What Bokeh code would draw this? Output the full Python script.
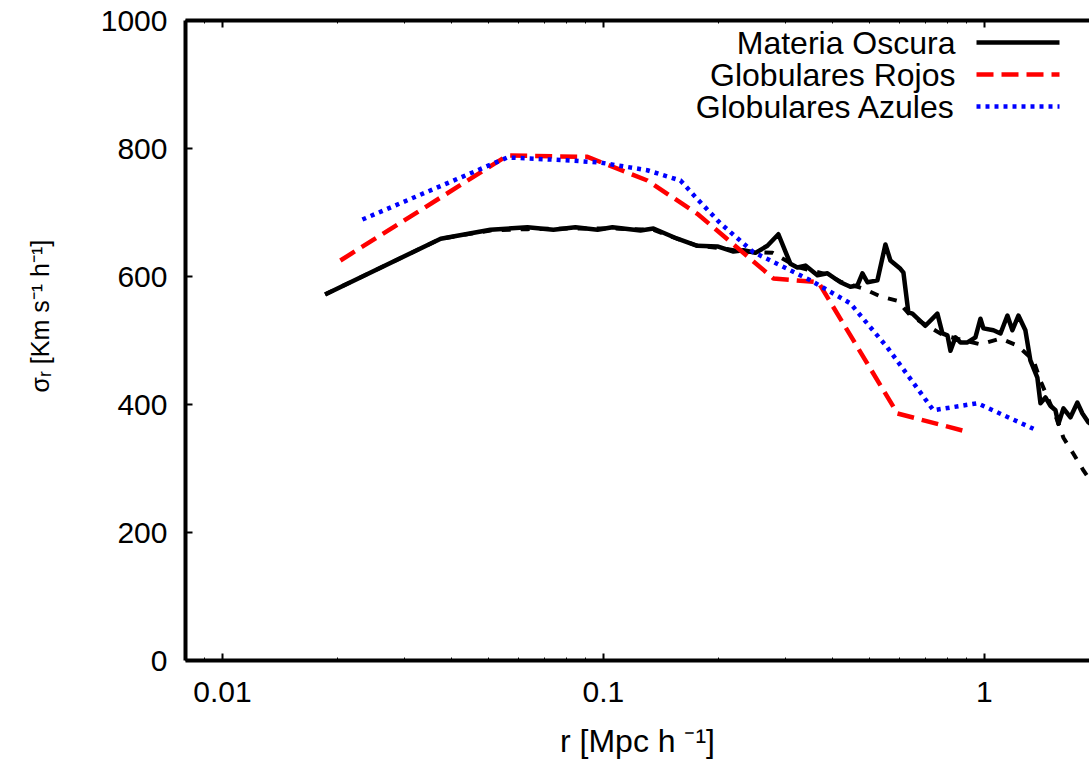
import math
from bokeh.plotting import figure
from bokeh.models import Range1d, LogAxis, FixedTicker, NumeralTickFormatter, Label, CustomJSTickFormatter
from bokeh.embed import file_html
from bokeh.resources import INLINE

# ---------------- data ----------------
r_dm = [0.0186, 0.0374, 0.0505, 0.0632, 0.0739, 0.0844, 0.0965, 0.1056, 0.1251, 0.1353,
        0.1563, 0.1764, 0.1991, 0.2194, 0.2331, 0.2506, 0.2694, 0.2879, 0.3095, 0.3229,
        0.3390, 0.3644, 0.3872, 0.4188, 0.4447, 0.4642, 0.4784, 0.4931, 0.5238, 0.5497,
        0.5665, 0.6018, 0.6130, 0.6314, 0.6472, 0.6999, 0.7525, 0.7760, 0.7997, 0.8144,
        0.8392, 0.8650, 0.9024, 0.9471, 0.9761, 0.9940, 1.056, 1.102, 1.149, 1.184,
        1.228, 1.281, 1.320, 1.377, 1.403, 1.446, 1.490, 1.536, 1.564, 1.612,
        1.682, 1.754, 1.808, 1.875, 2.016]
v_dm = [572, 659, 673, 677, 673, 677, 673, 677, 672, 675,
        659, 648, 647, 639, 641, 637, 648, 666, 620, 614,
        617, 602, 605, 591, 584, 586, 605, 591, 594, 650,
        625, 612, 606, 544, 542, 523, 542, 511, 508, 484,
        505, 497, 497, 505, 534, 519, 516, 511, 539, 516,
        539, 516, 469, 442, 402, 411, 398, 391, 370, 394,
        380, 403, 386, 372, 360]

r_dm_smooth = [0.0186, 0.0374, 0.0505, 0.0632, 0.0844, 0.1056, 0.1353, 0.1563, 0.1764, 0.1991,
               0.2331, 0.2778, 0.3229, 0.3872, 0.4188, 0.4813, 0.5333, 0.5910, 0.6393, 0.7085,
               0.7806, 0.9761, 1.102, 1.221, 1.345, 1.403, 1.554, 1.612, 1.712, 1.819, 1.956]
v_dm_smooth = [572, 659, 672, 674, 675, 675, 673, 659, 648, 645,
               639, 637, 615, 603, 592, 581, 569, 562, 539, 523,
               508, 494, 503, 492, 469, 437, 375, 348, 323, 297, 270]

r_red = [0.0204, 0.0560, 0.0908, 0.1304, 0.1764, 0.2794, 0.3666, 0.5910, 0.8808]
v_red = [625, 789, 787, 750, 698, 597, 591, 386, 359]

r_blue = [0.0233, 0.0560, 0.0834, 0.0982, 0.1304, 0.1593, 0.1764, 0.2028, 0.2476, 0.3495,
          0.4447, 0.5564, 0.7346, 0.9585, 1.345]
v_blue = [689, 786, 781, 778, 766, 750, 721, 683, 638, 594,
          558, 489, 391, 402, 362]

series_names = ["Materia Oscura", "Globulares Rojos", "Globulares Azules"]
x_ticks = [0.01, 0.1, 1]
y_ticks = [0, 200, 400, 600, 800, 1000]
x_title = "r [Mpc h \u207b\u00b9]"
y_title = "\u03c3\u1d63 [Km s\u207b\u00b9 h\u207b\u00b9]"

# ---------------- layout ----------------
XMIN, XMAX = 0.008, 1.887
FRAME_L, FRAME_T, FRAME_B = 185, 20, 660   # pixels in the picture
DEC = 381.0
FONT = "Liberation Sans"

def dx(px):
    return 10 ** (math.log10(XMIN) + (px - FRAME_L) / DEC)

def dy(py):
    return (FRAME_B - py) / (FRAME_B - FRAME_T) * 1000.0

p = figure(width=1089, height=767, x_axis_type="log",
           x_range=Range1d(XMIN, XMAX), y_range=Range1d(0, 1000),
           output_backend="svg", toolbar_location=None,
           min_border_left=FRAME_L, min_border_right=0,
           min_border_top=FRAME_T, min_border_bottom=767 - FRAME_B)
p.outline_line_color = None
p.xgrid.grid_line_color = None
p.ygrid.grid_line_color = None
p.background_fill_color = "white"

minor = [k * 10 ** e for e in (-3, -2, -1, 0) for k in range(2, 10)]

xa = p.xaxis[0]
xa.ticker = FixedTicker(ticks=x_ticks, minor_ticks=minor)
xa.formatter = NumeralTickFormatter(format="0.[00]")
ya = p.yaxis[0]
ya.ticker = FixedTicker(ticks=y_ticks, minor_ticks=[])

top = LogAxis(ticker=FixedTicker(ticks=x_ticks, minor_ticks=minor),
              formatter=CustomJSTickFormatter(code="return ''"))
p.add_layout(top, "above")

for ax in (xa, ya, top):
    ax.axis_line_width = 4
    ax.axis_line_color = "black"
    ax.major_tick_in = 7
    ax.major_tick_out = 0
    ax.major_tick_line_width = 2
    ax.minor_tick_in = 3
    ax.minor_tick_out = 0
    ax.minor_tick_line_width = 1
    ax.major_label_text_font = FONT
    ax.major_label_text_font_size = "30px"
    ax.major_label_text_color = "black"
    ax.axis_label_text_font = FONT
    ax.axis_label_text_font_style = "normal"
    ax.axis_label_text_color = "black"
top.major_label_text_font_size = "0px"
top.major_label_standoff = 0
xa.major_label_standoff = 21
ya.major_label_standoff = 18

xa.axis_label = x_title
xa.axis_label_text_font_size = "32px"
xa.axis_label_standoff = 18
# leading no-break spaces shift the centred title up, as in the original
ya.axis_label = "\u00a0" * 7 + y_title
ya.axis_label_text_font_size = "25px"
ya.axis_label_standoff = 44

# ---------------- lines ----------------
p.line(r_dm_smooth, v_dm_smooth, line_color="black", line_width=4, line_dash="9 10")
p.line(r_dm, v_dm, line_color="black", line_width=4.5, line_join="round")
p.line(r_red, v_red, line_color="#ff0000", line_width=4.5, line_dash="17 8")
p.line(r_blue, v_blue, line_color="#0000ff", line_width=4.5, line_dash="4 5")

# ---------------- legend (text left, sample right) ----------------
leg_styles = [dict(line_color="black", line_dash="solid"),
              dict(line_color="#ff0000", line_dash="17 8"),
              dict(line_color="#0000ff", line_dash="4 5")]
for i, (name, st) in enumerate(zip(series_names, leg_styles)):
    line_y = 42 + 32 * i
    p.add_layout(Label(x=dx(955), y=dy(line_y), text=name, text_align="right",
                       text_baseline="middle", text_font=FONT,
                       text_font_size="32px", text_color="black"))
    p.segment(x0=[dx(976)], y0=[dy(line_y)], x1=[dx(1059)], y1=[dy(line_y)],
              line_width=4.5, **st)

open("out.html", "w").write(file_html(p, INLINE))
